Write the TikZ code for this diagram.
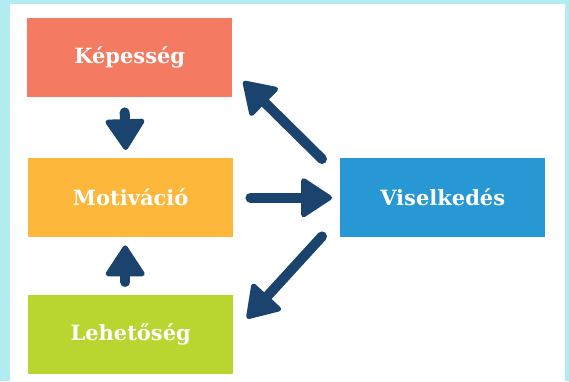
\documentclass[tikz,border=0pt]{standalone}
\usepackage{fontspec}
\setmainfont{DejaVu Serif}
\usetikzlibrary{arrows.meta,calc}
\definecolor{bordercyan}{HTML}{B3EBF2}
\definecolor{salmon}{HTML}{F47A61}
\definecolor{amber}{HTML}{FDB73A}
\definecolor{lime}{HTML}{B9D530}
\definecolor{skyblue}{HTML}{2898D5}
\definecolor{navy}{HTML}{1A446E}
\tikzset{
  box/.style={minimum width=205pt, minimum height=79pt, inner sep=0pt, text=white,
    font=\fontsize{21}{25}\selectfont\bfseries},
  bigarrow/.style={draw=navy, line width=10pt, line cap=round,
    -{Triangle[length=33pt, width=42pt, line width=5pt, round]}},
}
\begin{document}
\begin{tikzpicture}[x=1pt,y=-1pt]
\useasboundingbox (0,0) rectangle (569,381);
\fill[bordercyan] (0,0) rectangle (569,381);
\fill[white] (10,4) rectangle (565,381);
\node[box, fill=salmon, anchor=north west] (cap) at (27,18) {Képesség};
\node[box, fill=amber, anchor=north west] (mot) at (28,158) {Motiváció};
\node[box, fill=lime, anchor=north west] (opp) at (28,295) {Lehetőség};
\node[box, fill=skyblue, anchor=north west] (beh) at (340,158) {Viselkedés};
\draw[bigarrow] ($(cap.south)+(-5,15)$) -- ($(mot.north)+(-5,-8)$);
\draw[bigarrow] ($(opp.north)+(-5.5,-13)$) -- ($(mot.south)+(-5.5,8)$);
\draw[bigarrow] ($(mot.east)+(17,0)$) -- ($(beh.west)+(-8,0)$);
\draw[bigarrow] ($(beh.north west)+(-18,1)$) -- ($(cap.south east)+(11,-16)$);
\draw[bigarrow] ($(beh.south west)+(-18,-1)$) -- ($(opp.south west)+(219,-56)$);
\end{tikzpicture}
\end{document}
